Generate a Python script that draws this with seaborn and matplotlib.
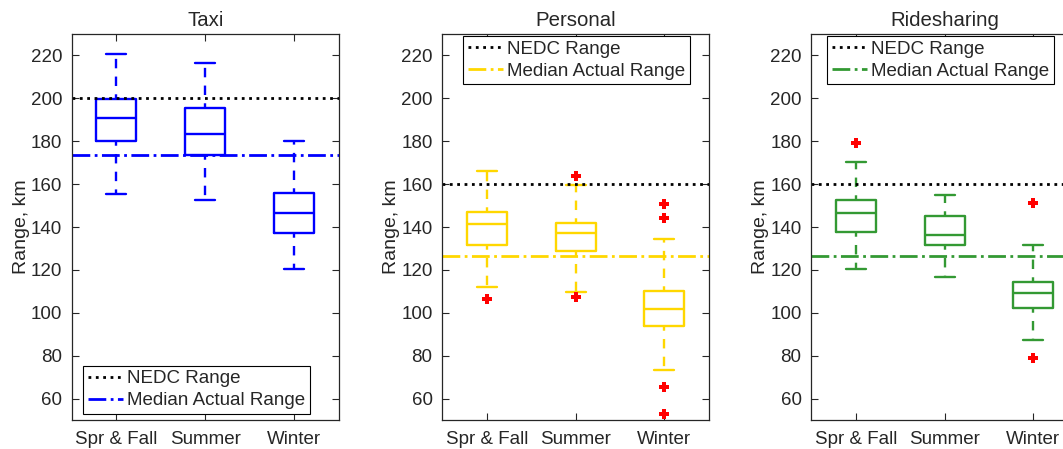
import numpy as np
import pandas as pd
import matplotlib
matplotlib.use("Agg")
import matplotlib.pyplot as plt
import seaborn as sns

# Categories and panel names
seasons = ["Spr & Fall", "Summer", "Winter"]
panels = ["Taxi", "Personal", "Ridesharing"]

# Five-number summaries per panel (lower whisker, Q1, median, Q3, upper whisker), km
taxi_low = [155.2, 152.4, 120.5]
taxi_q1 = [180.3, 173.5, 137.3]
taxi_med = [190.8, 183.6, 146.6]
taxi_q3 = [199.5, 195.4, 155.9]
taxi_high = [220.5, 216.6, 180.0]

personal_low = [112.1, 109.8, 73.5]
personal_q1 = [131.8, 128.7, 93.7]
personal_med = [141.6, 137.0, 101.8]
personal_q3 = [147.1, 141.8, 110.1]
personal_high = [166.2, 159.4, 134.6]

ride_low = [120.2, 116.9, 87.2]
ride_q1 = [137.6, 131.4, 102.4]
ride_med = [146.5, 136.5, 109.0]
ride_q3 = [152.5, 144.9, 114.3]
ride_high = [170.4, 154.7, 131.8]

# Outliers (season, value)
taxi_out_season = []
taxi_out_value = []
personal_out_season = ["Spr & Fall", "Summer", "Summer", "Winter", "Winter", "Winter", "Winter"]
personal_out_value = [106.5, 163.7, 107.4, 150.8, 144.1, 65.4, 52.7]
ride_out_season = ["Spr & Fall", "Winter", "Winter"]
ride_out_value = [179.3, 151.3, 78.8]

# Reference lines
nedc_range = [200, 160, 160]
median_actual = [173.4, 126.4, 126.7]

colors = ["#0000FF", "#FFD700", "#339933"]

summaries = [
    (taxi_low, taxi_q1, taxi_med, taxi_q3, taxi_high),
    (personal_low, personal_q1, personal_med, personal_q3, personal_high),
    (ride_low, ride_q1, ride_med, ride_q3, ride_high),
]
outliers = [
    (taxi_out_season, taxi_out_value),
    (personal_out_season, personal_out_value),
    (ride_out_season, ride_out_value),
]

sns.set_theme(style="ticks")
plt.rcParams["font.family"] = ["Liberation Sans", "DejaVu Sans"]
text_color = "#262626"
plt.rcParams.update({
    "axes.edgecolor": text_color,
    "xtick.color": text_color,
    "ytick.color": text_color,
    "axes.labelcolor": text_color,
    "text.color": text_color,
    "xtick.direction": "in",
    "ytick.direction": "in",
})

W, H = 1063, 449
fig = plt.figure(figsize=(W / 100, H / 100), dpi=100)

lefts_px = [72, 442.3, 811.3]
ax_w_px = 266.5
ax_top_px, ax_bot_px = 34, 420

legend_anchor = [("lower left", (0.041, 0.016)),
                 ("upper left", (0.078, 0.995)),
                 ("upper left", (0.059, 0.995))]

fs = 13.5

for i, name in enumerate(panels):
    ax = fig.add_axes([lefts_px[i] / W, (H - ax_bot_px) / H,
                       ax_w_px / W, (ax_bot_px - ax_top_px) / H])
    low, q1, med, q3, high = summaries[i]
    rows = []
    for j, s in enumerate(seasons):
        for v in (low[j], q1[j], med[j], q3[j], high[j]):
            rows.append({"season": s, "range": v})
    df = pd.DataFrame(rows)

    sns.boxplot(data=df, x="season", y="range", order=seasons, whis=(0, 100),
                width=0.45, fill=False, color=colors[i], linewidth=1.7,
                showfliers=False, whiskerprops={"linestyle": (2, (4, 3.5))},
                ax=ax)

    o_s, o_v = outliers[i]
    if o_s:
        odf = pd.DataFrame({"season": o_s, "range": o_v})
        sns.stripplot(data=odf, x="season", y="range", order=seasons,
                      jitter=False, marker="P", color="#FF0000", size=6.5,
                      linewidth=0, ax=ax)

    ax.axhline(nedc_range[i], color="black", linestyle=":", linewidth=2,
               label="NEDC Range")
    ax.axhline(median_actual[i], color=colors[i], linestyle="-.", linewidth=2,
               label="Median Actual Range")

    ax.set_xlim(-0.5, 2.5)
    ax.set_ylim(50, 230)
    ax.set_yticks(np.arange(60, 221, 20))
    ax.set_xticks(range(len(seasons)))
    ax.set_xticklabels(seasons)
    ax.set_xlabel("")
    ax.set_ylabel("Range, km", fontsize=fs + 0.5, labelpad=0.5)
    ax.set_title(name, fontsize=fs + 1.2, pad=6)
    ax.tick_params(axis="both", labelsize=fs, length=5, width=0.8,
                   top=True, right=True)
    ax.tick_params(axis="x", pad=8)
    ax.tick_params(axis="y", pad=7)
    for sp in ax.spines.values():
        sp.set_visible(True)
        sp.set_linewidth(0.9)

    loc, anchor = legend_anchor[i]
    leg = ax.legend(loc=loc, bbox_to_anchor=anchor, borderaxespad=0,
                    fontsize=fs, frameon=True, fancybox=False,
                    edgecolor="black", framealpha=1, handlelength=1.9,
                    handletextpad=0.2, labelspacing=0.25, borderpad=0.25)
    leg.get_frame().set_linewidth(0.8)

fig.savefig("out.png", dpi=100)
